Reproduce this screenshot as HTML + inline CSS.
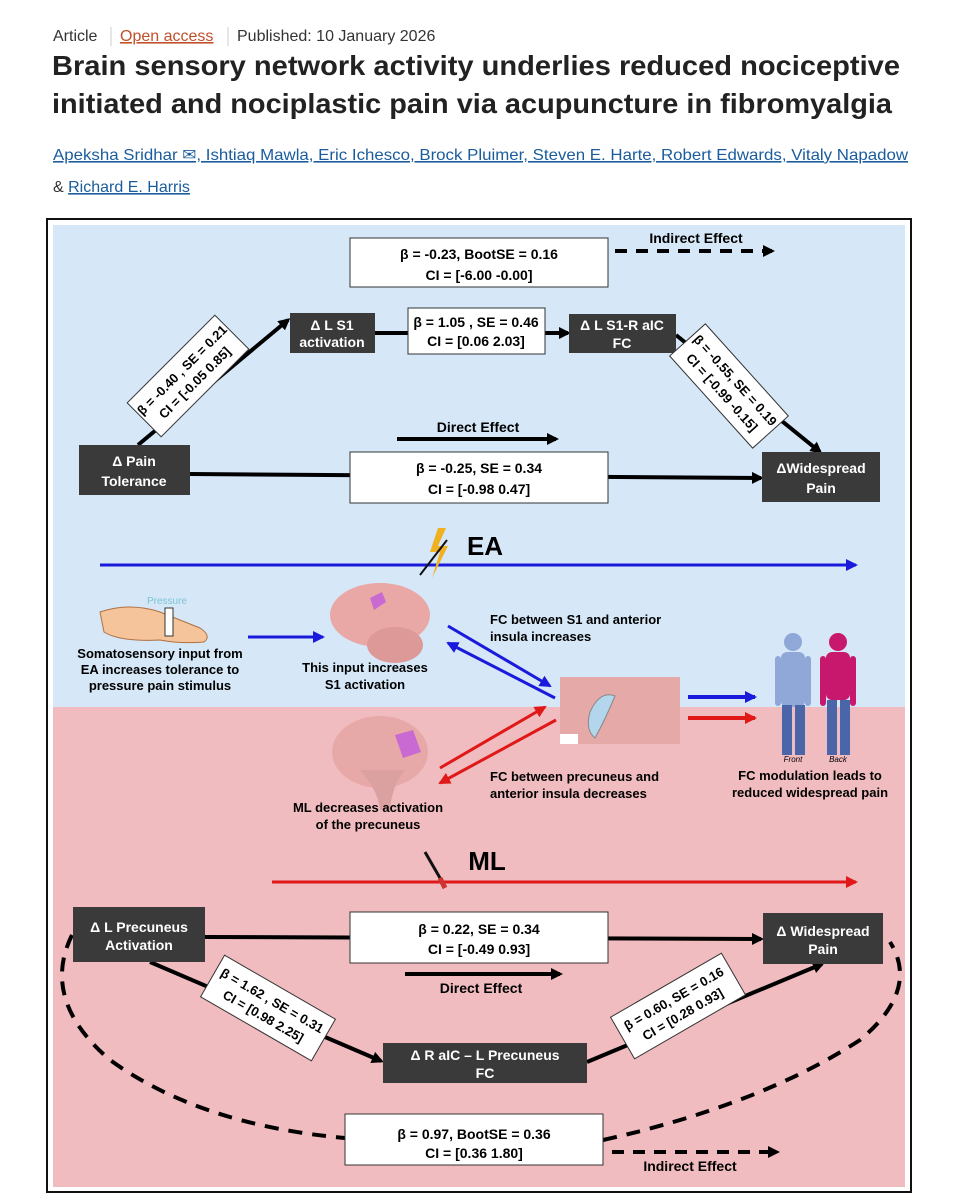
<!DOCTYPE html>
<html><head><meta charset="utf-8"><style>
body{margin:0;background:#fff;width:960px;height:1200px;overflow:hidden}
svg{display:block}
text{font-family:"Liberation Sans",sans-serif}
.b{font-weight:bold}
</style></head><body>
<svg width="960" height="1200" viewBox="0 0 960 1200" xmlns="http://www.w3.org/2000/svg">
<defs>
<marker id="ak" markerWidth="12" markerHeight="12" refX="9" refY="6" orient="auto" markerUnits="userSpaceOnUse"><path d="M0,0 L12,6 L0,12 z" fill="#000"/></marker>
<marker id="ab" markerWidth="12" markerHeight="12" refX="10" refY="6" orient="auto" markerUnits="userSpaceOnUse"><path d="M0,0 L12,6 L0,12 z" fill="#1a1adc"/></marker>
<marker id="ar" markerWidth="12" markerHeight="12" refX="10" refY="6" orient="auto" markerUnits="userSpaceOnUse"><path d="M0,0 L12,6 L0,12 z" fill="#e01818"/></marker>
</defs>
<!-- header -->
<text x="53" y="41" font-size="16" fill="#333">Article</text>
<line x1="111" y1="27" x2="111" y2="46" stroke="#ccc"/>
<text x="120" y="41" font-size="16" fill="#c0502a" text-decoration="underline">Open access</text>
<line x1="228" y1="27" x2="228" y2="46" stroke="#ccc"/>
<text x="237" y="41" font-size="16" fill="#333">Published: 10 January 2026</text>
<text x="52" y="75" font-size="28" class="b" fill="#222" textLength="848" lengthAdjust="spacingAndGlyphs">Brain sensory network activity underlies reduced nociceptive</text>
<text x="52" y="113" font-size="28" class="b" fill="#222" textLength="840" lengthAdjust="spacingAndGlyphs">initiated and nociplastic pain via acupuncture in fibromyalgia</text>
<text x="53" y="160" font-size="16" fill="#1a5c9c" text-decoration="underline" textLength="855" lengthAdjust="spacingAndGlyphs">Apeksha Sridhar ✉, Ishtiaq Mawla, Eric Ichesco, Brock Pluimer, Steven E. Harte, Robert Edwards, Vitaly Napadow</text>
<text x="53" y="192" font-size="16" fill="#333">&amp; <tspan fill="#1a5c9c" text-decoration="underline">Richard E. Harris</tspan></text>

<!-- frame -->
<rect x="47" y="219" width="864" height="973" fill="#fff" stroke="#111" stroke-width="2"/>
<rect x="53" y="225" width="852" height="482" fill="#d6e8f8"/>
<rect x="53" y="707" width="852" height="480" fill="#f0bcbf"/>

<g class="b" font-size="14" text-anchor="middle">
<!-- top -->
<rect x="350" y="238" width="258" height="49" fill="#fff" stroke="#333"/>
<text x="479" y="259">β = -0.23, BootSE = 0.16</text>
<text x="479" y="280">CI = [-6.00 -0.00]</text>
<text x="696" y="243">Indirect Effect</text>
<line x1="615" y1="251" x2="772" y2="251" stroke="#000" stroke-width="4" stroke-dasharray="12,9" marker-end="url(#ak)"/>

<line x1="138" y1="445" x2="288" y2="320" stroke="#000" stroke-width="4" marker-end="url(#ak)"/>
<line x1="375" y1="333" x2="408" y2="333" stroke="#000" stroke-width="4"/>
<line x1="545" y1="333" x2="568" y2="333" stroke="#000" stroke-width="4" marker-end="url(#ak)"/>
<line x1="676" y1="335" x2="820" y2="452" stroke="#000" stroke-width="4" marker-end="url(#ak)"/>
<line x1="190" y1="474" x2="761" y2="478" stroke="#000" stroke-width="4" marker-end="url(#ak)"/>

<rect x="290" y="313" width="85" height="40" fill="#3a3a3a"/>
<text x="332" y="330" fill="#fff">Δ L S1</text><text x="332" y="347" fill="#fff">activation</text>
<rect x="408" y="308" width="137" height="46" fill="#fff" stroke="#333"/>
<text x="476" y="327">β = 1.05 , SE = 0.46</text><text x="476" y="346">CI = [0.06 2.03]</text>
<rect x="569" y="314" width="107" height="39" fill="#3a3a3a"/>
<text x="622" y="330" fill="#fff">Δ L S1-R aIC</text><text x="622" y="348" fill="#fff">FC</text>
<g transform="translate(188,376) rotate(-45)" font-size="13"><rect x="-62" y="-24" width="124" height="48" fill="#fff" stroke="#333"/><text y="-4">β = -0.40 , SE = 0.21</text><text y="14">CI = [-0.05 0.85]</text></g>
<g transform="translate(729,386) rotate(48)" font-size="13"><rect x="-62" y="-24" width="124" height="48" fill="#fff" stroke="#333"/><text y="-4">β = -0.55, SE = 0.19</text><text y="14">CI = [-0.99 -0.15]</text></g>
<rect x="79" y="445" width="111" height="50" fill="#3a3a3a"/>
<text x="134" y="466" fill="#fff">Δ Pain</text><text x="134" y="486" fill="#fff">Tolerance</text>
<text x="478" y="432">Direct Effect</text>
<line x1="397" y1="439" x2="556" y2="439" stroke="#000" stroke-width="4" marker-end="url(#ak)"/>
<rect x="350" y="452" width="258" height="51" fill="#fff" stroke="#333"/>
<text x="479" y="473">β = -0.25, SE = 0.34</text><text x="479" y="494">CI = [-0.98 0.47]</text>
<rect x="762" y="452" width="118" height="50" fill="#3a3a3a"/>
<text x="821" y="473" fill="#fff">ΔWidespread</text><text x="821" y="493" fill="#fff">Pain</text>

<!-- EA -->
<line x1="100" y1="565" x2="856" y2="565" stroke="#1a1adc" stroke-width="3" marker-end="url(#ab)"/>
<polygon points="438,528 430,552 440,552 432,578 448,546 438,546 446,528" fill="#f0b020"/>
<line x1="420" y1="575" x2="447" y2="540" stroke="#111" stroke-width="2"/>
<text x="485" y="555" font-size="26">EA</text>

<!-- hand -->
<path d="M100,612 Q130,602 160,612 L200,628 Q212,636 204,642 Q180,644 160,640 Q120,642 104,632 Z" fill="#f5c49a" stroke="#b07040"/>
<rect x="165" y="608" width="8" height="28" fill="#fff" stroke="#333"/>
<text x="167" y="604" font-size="10" font-weight="normal" fill="#7cc4d4">Pressure</text>
<text x="160" y="658" font-size="13">Somatosensory input from</text>
<text x="160" y="674" font-size="13">EA increases tolerance to</text>
<text x="160" y="690" font-size="13">pressure pain stimulus</text>
<line x1="248" y1="637" x2="323" y2="637" stroke="#1a1adc" stroke-width="3" marker-end="url(#ab)"/>

<!-- brain 1 -->
<ellipse cx="380" cy="615" rx="50" ry="32" fill="#e9a7a6"/>
<ellipse cx="395" cy="645" rx="28" ry="18" fill="#dd9998"/>
<path d="M370,598 l12,-6 l4,10 l-12,8 z" fill="#c86ad2"/>
<text x="365" y="672" font-size="13">This input increases</text>
<text x="365" y="689" font-size="13">S1 activation</text>
<text x="490" y="624" font-size="13" text-anchor="start">FC between S1 and anterior</text>
<text x="490" y="641" font-size="13" text-anchor="start">insula increases</text>
<line x1="448" y1="626" x2="550" y2="686" stroke="#1a1adc" stroke-width="3" marker-end="url(#ab)"/>
<line x1="555" y1="698" x2="448" y2="643" stroke="#1a1adc" stroke-width="3" marker-end="url(#ab)"/>

<!-- insula -->
<rect x="560" y="677" width="120" height="67" fill="#e5a9a8"/>
<path d="M590,712 Q600,690 615,696 Q605,720 595,738 Q585,730 590,712 Z" fill="#b4d6ec" stroke="#888"/>
<rect x="560" y="734" width="18" height="10" fill="#fff"/>
<line x1="688" y1="697" x2="755" y2="697" stroke="#1a1adc" stroke-width="4" marker-end="url(#ab)"/>
<line x1="688" y1="718" x2="755" y2="718" stroke="#e01818" stroke-width="4" marker-end="url(#ar)"/>

<!-- figures -->
<g fill="#8fa8d8"><circle cx="793" cy="642" r="9"/><rect x="781" y="652" width="24" height="55" rx="6"/><rect x="775" y="656" width="6" height="50" rx="3"/><rect x="805" y="656" width="6" height="50" rx="3"/></g>
<g fill="#4a66a8"><rect x="782" y="705" width="10" height="50"/><rect x="795" y="705" width="10" height="50"/></g>
<g fill="#c8186e"><circle cx="838" cy="642" r="9"/><rect x="826" y="652" width="24" height="48" rx="6"/><rect x="820" y="656" width="6" height="50" rx="3"/><rect x="850" y="656" width="6" height="50" rx="3"/></g>
<g fill="#4a66a8"><rect x="827" y="700" width="10" height="55"/><rect x="840" y="700" width="10" height="55"/></g>
<text x="793" y="762" font-size="8" font-weight="normal" font-style="italic">Front</text>
<text x="838" y="762" font-size="8" font-weight="normal" font-style="italic">Back</text>
<text x="810" y="780" font-size="13">FC modulation leads to</text>
<text x="810" y="797" font-size="13">reduced widespread pain</text>

<!-- brain 2 -->
<ellipse cx="380" cy="752" rx="48" ry="36" fill="#e7a8a8"/>
<path d="M360,770 Q378,790 380,810 L390,810 Q392,785 405,770 Z" fill="#dba0a0"/>
<path d="M395,735 l18,-5 l8,22 l-18,6 z" fill="#c86ad2"/>
<text x="368" y="812" font-size="13">ML decreases activation</text>
<text x="368" y="829" font-size="13">of the precuneus</text>
<line x1="440" y1="768" x2="545" y2="707" stroke="#e01818" stroke-width="3" marker-end="url(#ar)"/>
<line x1="556" y1="720" x2="440" y2="783" stroke="#e01818" stroke-width="3" marker-end="url(#ar)"/>
<text x="490" y="781" font-size="13" text-anchor="start">FC between precuneus and</text>
<text x="490" y="798" font-size="13" text-anchor="start">anterior insula decreases</text>

<!-- ML -->
<line x1="272" y1="882" x2="856" y2="882" stroke="#e01818" stroke-width="3" marker-end="url(#ar)"/>
<line x1="425" y1="852" x2="440" y2="878" stroke="#111" stroke-width="3"/>
<line x1="440" y1="878" x2="445" y2="888" stroke="#c33" stroke-width="5"/>
<text x="487" y="870" font-size="26">ML</text>

<!-- bottom -->
<path d="M72,935 Q40,1000 110,1060 Q200,1125 345,1138" fill="none" stroke="#000" stroke-width="4" stroke-dasharray="14,10"/>
<path d="M603,1140 Q760,1105 860,1040 Q920,990 890,942" fill="none" stroke="#000" stroke-width="4" stroke-dasharray="14,10"/>
<line x1="205" y1="937" x2="761" y2="939" stroke="#000" stroke-width="4" marker-end="url(#ak)"/>
<line x1="150" y1="962" x2="381" y2="1061" stroke="#000" stroke-width="4" marker-end="url(#ak)"/>
<line x1="587" y1="1062" x2="822" y2="964" stroke="#000" stroke-width="4" marker-end="url(#ak)"/>
<rect x="73" y="907" width="132" height="55" fill="#3a3a3a"/>
<text x="139" y="932" fill="#fff">Δ L Precuneus</text><text x="139" y="950" fill="#fff">Activation</text>
<rect x="350" y="912" width="258" height="51" fill="#fff" stroke="#333"/>
<text x="479" y="934">β = 0.22, SE = 0.34</text><text x="479" y="954">CI = [-0.49 0.93]</text>
<rect x="763" y="913" width="120" height="51" fill="#3a3a3a"/>
<text x="823" y="936" fill="#fff">Δ Widespread</text><text x="823" y="954" fill="#fff">Pain</text>
<line x1="405" y1="974" x2="560" y2="974" stroke="#000" stroke-width="4" marker-end="url(#ak)"/>
<text x="481" y="993">Direct Effect</text>
<g transform="translate(268,1008) rotate(30)" font-size="13"><rect x="-64" y="-24" width="128" height="48" fill="#fff" stroke="#333"/><text y="-4">β = 1.62 , SE = 0.31</text><text y="14">CI = [0.98 2.25]</text></g>
<g transform="translate(678,1006) rotate(-30)" font-size="13"><rect x="-64" y="-24" width="128" height="48" fill="#fff" stroke="#333"/><text y="-4">β = 0.60, SE = 0.16</text><text y="14">CI = [0.28 0.93]</text></g>
<rect x="383" y="1043" width="204" height="40" fill="#3a3a3a"/>
<text x="485" y="1060" fill="#fff">Δ R aIC – L Precuneus</text><text x="485" y="1078" fill="#fff">FC</text>
<rect x="345" y="1114" width="258" height="51" fill="#fff" stroke="#333"/>
<text x="474" y="1139">β = 0.97, BootSE = 0.36</text><text x="474" y="1158">CI = [0.36 1.80]</text>
<line x1="612" y1="1152" x2="777" y2="1152" stroke="#000" stroke-width="4" stroke-dasharray="12,9" marker-end="url(#ak)"/>
<text x="690" y="1171">Indirect Effect</text>
</g>
</svg>
</body></html>
